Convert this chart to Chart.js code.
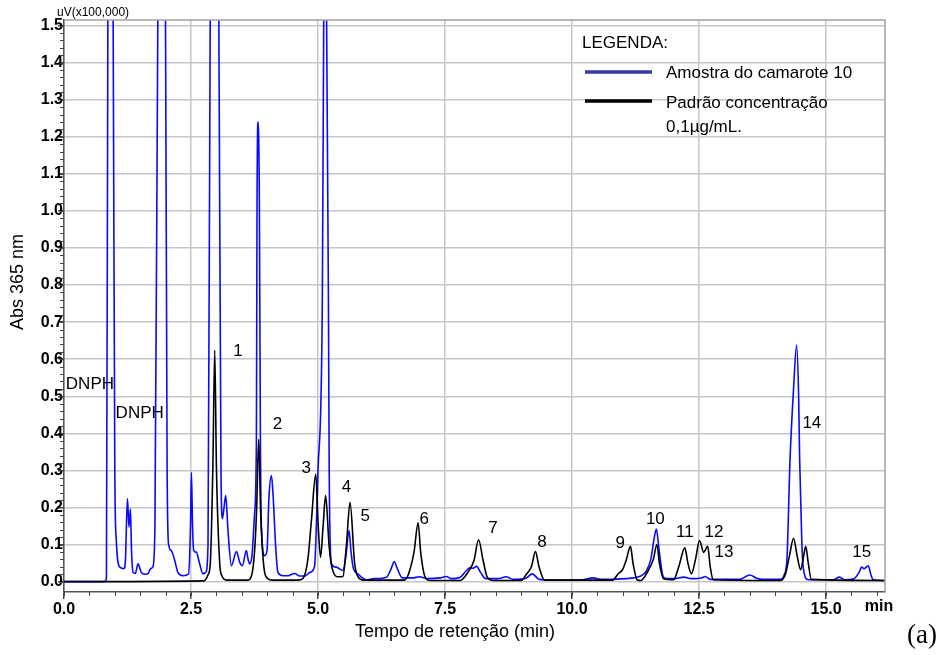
<!DOCTYPE html>
<html>
<head>
<meta charset="utf-8">
<script src="https://cdn.jsdelivr.net/npm/chart.js@4.4.1/dist/chart.umd.min.js"></script>
<style>
  html, body { margin: 0; padding: 0; background: #fff; }
  #wrap { width: 945px; height: 655px; position: relative; }
</style>
</head>
<body>
<div id="wrap"><canvas id="chrom" width="945" height="655"></canvas></div>
<script>
// Retention time (min) and absorbance at 365 nm (x100,000 uV) for each trace
const sampleTrace = [
  [0.00,0.000],[0.80,0.000],[0.835,0.010],[0.865,1.600],[0.915,2.300],[0.965,1.600],[1.00,0.300],
  [1.03,0.110],[1.10,0.039],[1.18,0.035],[1.21,0.060],[1.248,0.224],[1.28,0.147],[1.307,0.196],
  [1.33,0.080],[1.36,0.025],[1.405,0.022],[1.457,0.048],[1.52,0.025],[1.59,0.020],[1.65,0.021],
  [1.70,0.034],[1.75,0.040],[1.79,0.150],[1.85,1.600],[1.92,2.400],[1.996,1.600],[2.03,0.300],
  [2.06,0.100],[2.11,0.084],[2.18,0.057],[2.24,0.025],[2.34,0.016],[2.45,0.020],[2.49,0.150],
  [2.508,0.295],[2.53,0.150],[2.553,0.084],[2.606,0.079],[2.67,0.048],[2.736,0.021],[2.79,0.025],
  [2.835,0.100],[2.88,1.600],[2.96,2.400],[3.045,1.600],[3.09,0.300],[3.118,0.170],[3.15,0.200],
  [3.183,0.232],[3.228,0.138],[3.295,0.043],[3.394,0.081],[3.459,0.052],[3.51,0.043],[3.59,0.084],
  [3.622,0.061],[3.655,0.048],[3.70,0.070],[3.75,0.180],[3.787,0.380],[3.80,1.030],[3.82,1.240],
  [3.845,1.030],[3.866,0.380],[3.886,0.147],[3.95,0.070],[3.996,0.084],[4.035,0.228],[4.083,0.286],
  [4.114,0.237],[4.167,0.093],[4.21,0.025],[4.31,0.016],[4.41,0.016],[4.54,0.022],[4.64,0.015],
  [4.74,0.015],[4.84,0.025],[4.93,0.040],[5.00,0.300],[5.085,0.760],[5.115,1.600],[5.14,2.000],
  [5.165,1.600],[5.205,0.760],[5.22,0.300],[5.264,0.048],[5.36,0.039],[5.49,0.030],[5.55,0.070],
  [5.61,0.138],[5.65,0.080],[5.69,0.039],[5.79,0.020],[5.95,0.005],[6.10,0.008],[6.35,0.012],
  [6.44,0.035],[6.50,0.054],[6.56,0.035],[6.66,0.010],[6.85,0.010],[7.00,0.013],[7.15,0.008],
  [7.40,0.010],[7.53,0.014],[7.62,0.008],[7.80,0.012],[7.92,0.030],[7.99,0.037],[8.05,0.036],
  [8.12,0.041],[8.20,0.025],[8.30,0.008],[8.55,0.008],[8.70,0.013],[8.85,0.006],[9.10,0.010],
  [9.22,0.021],[9.35,0.006],[9.60,0.004],[10.20,0.005],[10.41,0.010],[10.60,0.006],[11.20,0.010],
  [11.35,0.015],[11.46,0.028],[11.55,0.060],[11.62,0.120],[11.66,0.142],[11.71,0.090],[11.78,0.020],
  [11.85,0.008],[12.00,0.008],[12.20,0.012],[12.35,0.008],[12.55,0.010],[12.62,0.014],[12.72,0.006],
  [13.30,0.006],[13.50,0.018],[13.62,0.010],[13.75,0.006],[14.10,0.006],[14.18,0.020],[14.23,0.060],
  [14.29,0.327],[14.36,0.520],[14.42,0.638],[14.46,0.500],[14.48,0.330],[14.52,0.120],[14.55,0.039],
  [14.65,0.005],[15.15,0.005],[15.26,0.012],[15.36,0.005],[15.55,0.008],[15.65,0.025],[15.70,0.039],
  [15.75,0.035],[15.83,0.043],[15.88,0.020],[15.93,0.005],[16.20,0.003]
];

const standardTrace = [
  [0.00,0.000],[2.75,0.002],[2.84,0.020],[2.88,0.050],[2.93,0.310],[2.967,0.624],[3.00,0.310],
  [3.065,0.050],[3.11,0.015],[3.20,0.004],[3.62,0.004],[3.69,0.015],[3.75,0.080],[3.79,0.190],
  [3.833,0.384],[3.87,0.190],[3.92,0.060],[3.97,0.015],[4.10,0.004],[4.60,0.004],[4.70,0.008],
  [4.80,0.060],[4.87,0.165],[4.955,0.290],[5.00,0.160],[5.05,0.066],[5.10,0.150],[5.15,0.232],
  [5.22,0.093],[5.29,0.030],[5.40,0.013],[5.49,0.014],[5.56,0.100],[5.63,0.214],[5.72,0.050],
  [5.79,0.012],[5.90,0.004],[6.70,0.004],[6.78,0.020],[6.89,0.080],[6.97,0.159],[7.02,0.080],
  [7.10,0.015],[7.20,0.003],[7.80,0.003],[7.95,0.025],[8.07,0.057],[8.16,0.113],[8.25,0.057],
  [8.33,0.012],[8.45,0.003],[9.00,0.003],[9.10,0.020],[9.20,0.040],[9.28,0.081],[9.35,0.040],
  [9.46,0.004],[10.80,0.004],[10.90,0.020],[11.00,0.034],[11.07,0.060],[11.15,0.095],[11.20,0.050],
  [11.28,0.005],[11.35,0.003],[11.50,0.030],[11.60,0.060],[11.67,0.100],[11.72,0.050],[11.80,0.008],
  [12.00,0.005],[12.10,0.040],[12.22,0.091],[12.28,0.050],[12.35,0.021],[12.43,0.060],[12.51,0.111],
  [12.59,0.079],[12.67,0.095],[12.72,0.040],[12.78,0.005],[14.10,0.003],[14.20,0.020],[14.28,0.070],
  [14.36,0.117],[14.43,0.070],[14.50,0.032],[14.56,0.070],[14.60,0.095],[14.65,0.050],[14.71,0.006],
  [16.20,0.003]
];

// Axis ticks
const timeTicks = [0, 2.5, 5, 7.5, 10, 12.5, 15];
const absTicks = [0, 0.1, 0.2, 0.3, 0.4, 0.5, 0.6, 0.7, 0.8, 0.9, 1.0, 1.1, 1.2, 1.3, 1.4, 1.5];

// Peak identifiers anchored at [time, absorbance]
const peakNames = ['DNPH', 'DNPH', '1', '2', '3', '4', '5', '6', '7', '8', '9', '10', '11', '12', '13', '14', '15'];
const peakAnchors = [
  [0.51,0.532],[1.49,0.454],[3.425,0.620],[4.20,0.424],[4.77,0.305],[5.56,0.255],[5.93,0.176],
  [7.09,0.168],[8.445,0.145],[9.41,0.106],[10.95,0.104],[11.64,0.168],[12.22,0.133],[12.795,0.133],
  [12.99,0.080],[14.72,0.426],[15.70,0.080]
];

const legendTitle = 'LEGENDA:';
const seriesNames = ['Amostra do camarote 10', 'Padrão concentração'];
const standardNote = '0,1µg/mL.';

const FONT = "'Liberation Sans', Arial, sans-serif";
const toPoints = arr => arr.map(([x, y]) => ({ x, y }));

const decorations = {
  id: 'decorations',
  afterDraw(chart) {
    const { ctx, chartArea: a, scales: { x, y } } = chart;
    ctx.save();

    // top and right frame
    ctx.strokeStyle = '#a0a0a0';
    ctx.lineWidth = 1.5;
    ctx.beginPath();
    ctx.moveTo(a.left, a.top);
    ctx.lineTo(a.right, a.top);
    ctx.lineTo(a.right, a.bottom);
    ctx.stroke();

    // minor ticks
    ctx.strokeStyle = '#444';
    ctx.lineWidth = 1;
    ctx.beginPath();
    for (let i = 0; i * 0.5 <= x.max; i++) {
      const px = Math.round(x.getPixelForValue(i * 0.5)) + 0.5;
      ctx.moveTo(px, a.bottom);
      ctx.lineTo(px, a.bottom + 4);
    }
    for (let i = 0; i * 0.02 <= y.max; i++) {
      const py = Math.round(y.getPixelForValue(i * 0.02)) + 0.5;
      ctx.moveTo(a.left - 4, py);
      ctx.lineTo(a.left, py);
    }
    ctx.stroke();

    // peak labels
    ctx.fillStyle = '#000';
    ctx.textAlign = 'center';
    ctx.textBaseline = 'middle';
    ctx.font = `17px ${FONT}`;
    peakNames.forEach((name, i) => {
      const [t, v] = peakAnchors[i];
      ctx.fillText(name, x.getPixelForValue(t), y.getPixelForValue(v));
    });

    // legend
    ctx.textAlign = 'left';
    ctx.font = `17px ${FONT}`;
    ctx.fillText(legendTitle, 582, 43);
    ctx.lineWidth = 3.5;
    ctx.strokeStyle = '#3a3aa6';
    ctx.beginPath(); ctx.moveTo(585, 72); ctx.lineTo(652, 72); ctx.stroke();
    ctx.strokeStyle = '#000';
    ctx.beginPath(); ctx.moveTo(585, 101); ctx.lineTo(652, 101); ctx.stroke();
    ctx.fillText(seriesNames[0], 666, 73);
    ctx.fillText(seriesNames[1], 666, 103);
    ctx.fillText(standardNote, 666, 127);

    // axis titles and units
    ctx.textAlign = 'center';
    ctx.font = `18px ${FONT}`;
    ctx.fillText('Tempo de retenção (min)', 455, 632);
    ctx.save();
    ctx.translate(18, 282);
    ctx.rotate(-Math.PI / 2);
    ctx.fillText('Abs 365 nm', 0, 0);
    ctx.restore();
    ctx.font = `bold 16px ${FONT}`;
    ctx.fillText('min', 879, 607);
    ctx.textAlign = 'left';
    ctx.font = `12px ${FONT}`;
    ctx.fillText('uV(x100,000)', 57, 13);
    ctx.font = "27px 'Liberation Serif', 'Times New Roman', serif";
    ctx.fillText('(a)', 907, 636);
    ctx.restore();
  }
};

new Chart(document.getElementById('chrom'), {
  type: 'line',
  data: {
    datasets: [
      {
        label: seriesNames[0],
        data: toPoints(sampleTrace),
        borderColor: '#0a0aff',
        borderWidth: 1.6,
        pointRadius: 0,
        cubicInterpolationMode: 'monotone',
        order: 1
      },
      {
        label: seriesNames[1],
        data: toPoints(standardTrace),
        borderColor: '#000000',
        borderWidth: 1.6,
        pointRadius: 0,
        cubicInterpolationMode: 'monotone',
        order: 0
      }
    ]
  },
  options: {
    responsive: false,
    animation: false,
    devicePixelRatio: 1,
    layout: { padding: { top: 20, right: 60, left: 0, bottom: 0 } },
    plugins: { legend: { display: false }, tooltip: { enabled: false } },
    scales: {
      x: {
        type: 'linear',
        min: 0,
        max: 16.16,
        afterBuildTicks: s => { s.ticks = timeTicks.map(v => ({ value: v })); },
        afterFit: s => { s.height = 63; },
        grid: { color: '#c6c6c6', lineWidth: 1.5, tickColor: '#444', tickLength: 7 },
        border: { color: '#555', width: 1.5 },
        ticks: {
          autoSkip: false, maxRotation: 0, padding: 1, color: '#000',
          font: { family: FONT, size: 16, weight: 'bold' },
          callback: v => Number(v).toFixed(1)
        }
      },
      y: {
        type: 'linear',
        min: -0.028,
        max: 1.515,
        afterBuildTicks: s => { s.ticks = absTicks.map(v => ({ value: v })); },
        afterFit: s => { s.width = 64; },
        grid: { color: '#c6c6c6', lineWidth: 1.5, tickColor: '#444', tickLength: 6 },
        border: { color: '#555', width: 1.5 },
        ticks: {
          autoSkip: false, padding: -5, color: '#000',
          font: { family: FONT, size: 16, weight: 'bold' },
          callback: v => Number(v).toFixed(1)
        }
      }
    }
  },
  plugins: [decorations]
});
</script>
</body>
</html>
